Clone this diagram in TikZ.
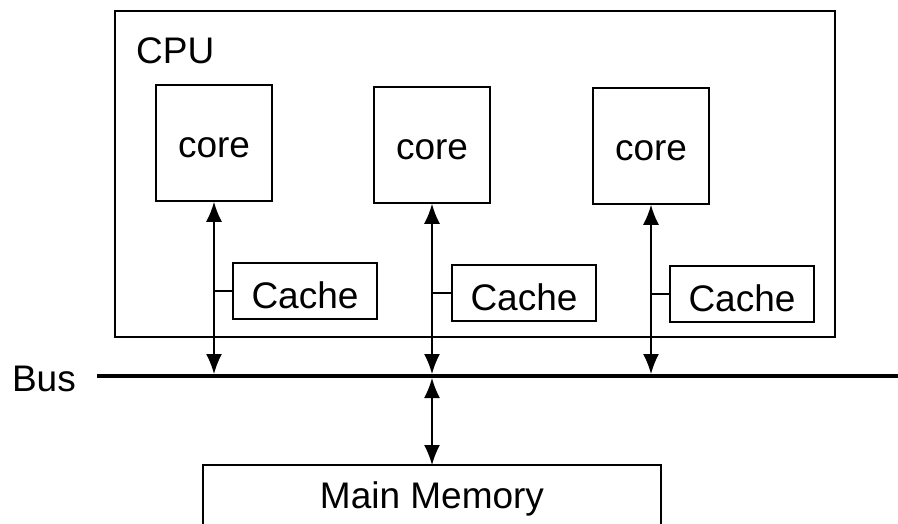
\documentclass[tikz,border=0pt]{standalone}
\usepackage{fontspec}
\setmainfont{Liberation Sans}
\usetikzlibrary{arrows.meta}
\begin{document}
\begin{tikzpicture}[x=1pt,y=-1pt,
  box/.style={draw,line width=1.6pt,inner sep=0pt,font=\fontsize{37}{44}\selectfont},
  corebox/.style={box,minimum width=116pt,minimum height=116pt,text height=28pt,text depth=0pt},
  cachebox/.style={box,minimum width=144pt,minimum height=56pt,text height=35pt,text depth=0pt},
  lbl/.style={inner sep=0pt,font=\fontsize{37}{44}\selectfont},
  link/.style={line width=1.6pt,{Latex[length=20pt,width=16pt]}-{Latex[length=20pt,width=16pt]}},
  tick/.style={line width=1.6pt}]
\useasboundingbox (0,0) rectangle (898,523);
% CPU
\node[box,minimum width=720pt,minimum height=326pt] (cpu) at (475,174) {};
\node[lbl,anchor=base west] (cpulbl) at (136,63) {CPU};
% cores
\node[corebox] (c1) at (214,143) {core};
\node[corebox] (c2) at (432,145) {core};
\node[corebox] (c3) at (651,146) {core};
% caches
\node[cachebox] (k1) at (305,291) {Cache};
\node[cachebox] (k2) at (524,293) {Cache};
\node[cachebox] (k3) at (742,294) {Cache};
% bus
\coordinate (busL) at (97,376);
\coordinate (busR) at (898,376);
\draw[line width=4pt] (busL) -- (busR);
\node[lbl,anchor=base east] (buslbl) at (76,391) {Bus};
\coordinate (b1) at (214,374);
\coordinate (b2) at (432,374);
\coordinate (b3) at (651,374);
\coordinate (b2m) at (432,378);
% arrows
\draw[link] (c1.south) -- (b1);
\draw[link] (c2.south) -- (b2);
\draw[link] (c3.south) -- (b3);
\draw[tick] (k1.west) -- (k1.west -| b1);
\draw[tick] (k2.west) -- (k2.west -| b2);
\draw[tick] (k3.west) -- (k3.west -| b3);
% main memory (open at bottom)
\coordinate (mmBL) at (203,530);
\coordinate (mmTL) at (203,465);
\coordinate (mmTR) at (661,465);
\coordinate (mmBR) at (661,530);
\draw[line width=1.6pt] (mmBL) -- (mmTL) -- (mmTR) -- (mmBR);
\node[lbl,anchor=base] (mm) at (432,508) {Main Memory};
\coordinate (mmtop) at (432,465);
\draw[link] (b2m) -- (mmtop);
\end{tikzpicture}
\end{document}
